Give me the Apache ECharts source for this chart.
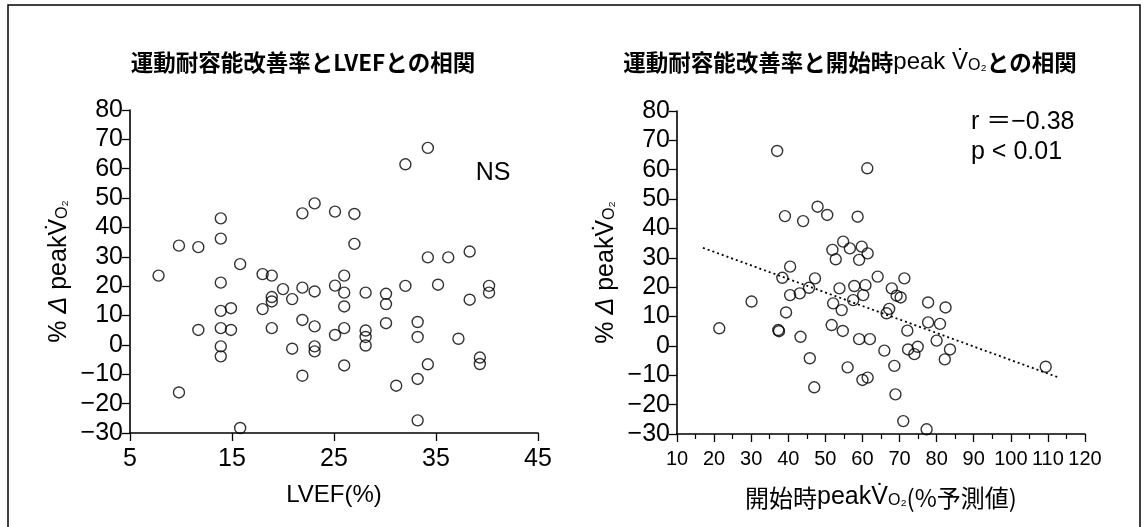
<!DOCTYPE html>
<html><head><meta charset="utf-8">
<script src="https://cdn.jsdelivr.net/npm/echarts@6/dist/echarts.min.js"></script>
<style>html,body{margin:0;padding:0;background:#fff}#c{width:1146px;height:527px}</style>
</head><body><div id="c"></div>
<script>
// Left panel: LVEF (%) vs %Δ peak VO2
const lvef = [7.8, 9.8, 11.7, 13.9, 13.9, 15.8, 13.9, 9.8, 15.8, 11.7, 13.9, 14.9, 13.9, 14.9, 13.9, 13.9, 18.0, 18.9, 20.0, 18.9, 18.9, 18.0, 20.9, 18.9, 21.9, 23.1, 25.1, 27.0, 27.0, 21.9, 23.1, 25.1, 26.0, 26.0, 26.0, 21.9, 23.1, 20.9, 23.1, 23.1, 21.9, 25.1, 26.0, 26.0, 28.1, 28.1, 28.1, 28.1, 30.1, 30.1, 30.1, 32.0, 34.2, 32.0, 33.2, 33.2, 34.2, 33.2, 31.1, 33.2, 34.2, 36.2, 38.3, 35.2, 38.3, 40.2, 40.2, 37.2, 39.3, 39.3];
const lvefChange = [23.6, 33.8, 33.3, 43.1, 36.2, 27.5, 21.2, -16.2, -28.3, 5.1, 11.6, 12.5, 5.7, 5.1, -0.5, -3.9, 24.1, 23.6, 19.0, 16.3, 14.8, 12.2, 15.6, 5.7, 44.8, 48.2, 45.4, 44.6, 34.4, 19.5, 18.2, 20.2, 23.6, 17.8, 13.1, 8.5, 6.3, -1.3, -0.5, -2.2, -10.5, 3.4, 5.7, -7.0, 17.8, 4.9, 2.7, -0.2, 17.4, 13.9, 7.4, 61.5, 67.1, 20.1, 7.8, 2.7, -6.6, -11.6, -13.9, -25.7, 29.8, 29.8, 31.8, 20.5, 15.4, 20.1, 17.8, 2.1, -4.3, -6.5];
const lvefTicks = [5, 15, 25, 35, 45];

// Right panel: baseline peak VO2 (% predicted) vs %Δ peak VO2
const basePeak = [37.0, 61.3, 39.1, 44.0, 47.9, 50.5, 58.7, 54.8, 51.9, 52.8, 56.6, 59.8, 61.4, 59.1, 40.5, 38.4, 47.2, 45.6, 43.1, 40.5, 30.1, 21.4, 39.4, 37.3, 37.5, 43.3, 45.8, 47.0, 53.8, 57.8, 60.8, 64.1, 71.3, 67.9, 69.2, 70.3, 60.2, 57.5, 52.1, 54.4, 67.2, 66.5, 77.7, 82.4, 77.7, 80.9, 80.0, 83.6, 82.2, 72.1, 72.3, 74.9, 74.0, 68.6, 68.9, 71.0, 77.3, 109.4, 51.7, 54.7, 59.1, 62.0, 65.9, 56.0, 60.0, 61.4];
const baseChange = [66.4, 60.5, 44.2, 42.5, 47.4, 44.6, 44.0, 35.5, 32.7, 29.5, 33.2, 33.8, 31.5, 29.3, 27.0, 23.2, 23.0, 19.8, 17.9, 17.3, 15.1, 6.0, 11.4, 5.4, 5.0, 3.1, -4.2, -14.1, 19.6, 20.4, 20.7, 23.6, 23.0, 19.6, 17.1, 16.5, 17.3, 15.6, 14.5, 12.2, 12.6, 11.1, 14.8, 13.1, 8.0, 7.5, 1.8, -1.2, -4.6, 5.2, -1.2, -0.3, -2.8, -6.8, -16.5, -25.6, -28.4, -7.1, 7.1, 5.1, 2.3, 2.3, -1.6, -7.3, -11.6, -10.8];
const trendX = [17, 113];
const trendY = [33.4, -10.8];

const zip = (a, b) => a.map((v, i) => [v, b[i]]);
const LAT = "'Liberation Sans', Arial, sans-serif";
const JP = "'Noto Sans CJK JP', 'Liberation Sans', sans-serif";
const minus = v => String(v).replace('-', '−');
const axisLine = { show: true, onZero: false, lineStyle: { color: '#000', width: 1.6 } };
const yAxisCommon = {
  type: 'value', min: -30, max: 80, interval: 10,
  axisLine: axisLine, splitLine: { show: false },
  axisTick: { show: true, length: 8, lineStyle: { color: '#000', width: 1.3 } },
  axisLabel: { color: '#000', fontSize: 25, fontFamily: LAT, margin: 7, formatter: minus },
  name: '{t|% }{d|Δ}{t| peak}{t|V̇}{o|O₂}',
  nameLocation: 'middle', nameGap: 58, nameRotate: 90,
  nameTextStyle: {
    color: '#000',
    rich: {
      t: { fontSize: 25, fontFamily: LAT, color: '#000' },
      d: { fontSize: 25, fontFamily: LAT, fontStyle: 'italic', color: '#000' },
      o: { fontSize: 16, fontFamily: LAT, color: '#000', padding: [7, 0, 0, 0] }
    }
  }
};
const sym = { symbol: 'circle', symbolSize: 11, itemStyle: { color: 'rgba(0,0,0,0)', borderColor: '#000', borderWidth: 1.4 } };

const option = {
  backgroundColor: '#fff',
  animation: false,
  grid: [
    { left: 130, right: 608, top: 110, bottom: 94, containLabel: false },
    { left: 677, right: 61, top: 111, bottom: 93, containLabel: false }
  ],
  xAxis: [
    { gridIndex: 0, type: 'value', min: 5, max: 45,
      axisLine: axisLine, splitLine: { show: false },
      axisTick: { show: true, length: 8, customValues: lvefTicks, lineStyle: { color: '#000', width: 1.3 } },
      axisLabel: { color: '#000', fontSize: 25, fontFamily: LAT, margin: 14, customValues: lvefTicks },
      name: 'LVEF(%)', nameLocation: 'middle', nameGap: 50,
      nameTextStyle: { color: '#000', fontSize: 24, fontFamily: LAT } },
    { gridIndex: 1, type: 'value', min: 10, max: 120, interval: 10,
      axisLine: axisLine, splitLine: { show: false },
      axisTick: { show: true, length: 8, lineStyle: { color: '#000', width: 1.3 } },
      minorTick: { show: true, splitNumber: 2, length: 5, lineStyle: { color: '#000', width: 1.2 } },
      axisLabel: { color: '#000', fontSize: 20, fontFamily: LAT, margin: 15, interval: 0, showMaxLabel: true, showMinLabel: true, hideOverlap: false },
      name: '{j|開始時}{t|peak}{t|V̇}{o|O₂}{j|(%予測値)}', nameLocation: 'middle', nameGap: 51,
      nameTextStyle: { color: '#000', rich: {
        j: { fontSize: 24, fontFamily: JP, color: '#000' },
        t: { fontSize: 25, fontFamily: LAT, color: '#000' },
        o: { fontSize: 16, fontFamily: LAT, color: '#000', padding: [7, 0, 0, 0] }
      } } }
  ],
  yAxis: [
    Object.assign({ gridIndex: 0 }, yAxisCommon),
    Object.assign({ gridIndex: 1 }, yAxisCommon)
  ],
  series: [
    Object.assign({ type: 'scatter', xAxisIndex: 0, yAxisIndex: 0, data: zip(lvef, lvefChange) }, sym),
    Object.assign({ type: 'scatter', xAxisIndex: 1, yAxisIndex: 1, data: zip(basePeak, baseChange) }, sym),
    { type: 'line', xAxisIndex: 1, yAxisIndex: 1, data: zip(trendX, trendY), showSymbol: false, symbol: 'none',
      lineStyle: { color: '#000', width: 1.8, type: [2, 3] }, z: 1 }
  ],
  graphic: [
    { type: 'rect', shape: { x: 8, y: 5, width: 1132, height: 540 }, style: { fill: 'none', stroke: '#000', lineWidth: 1.5 }, silent: true },
    { type: 'text', x: 303, y: 62, style: { text: '運動耐容能改善率とLVEFとの相関', font: "bold 22.5px 'Noto Sans CJK JP'", fill: '#000', textAlign: 'center', textVerticalAlign: 'middle' } },
    { type: 'text', x: 850, y: 62, style: {
        text: '{j|運動耐容能改善率と開始時}{t|peak }{t|V̇}{o|O₂}{j|との相関}',
        textAlign: 'center', textVerticalAlign: 'middle',
        rich: {
          j: { font: "bold 22.5px 'Noto Sans CJK JP'", fill: '#000' },
          t: { font: "24px 'Liberation Sans'", fill: '#000' },
          o: { font: "16px 'Liberation Sans'", fill: '#000', padding: [7, 0, 0, 0] }
        } } },
    { type: 'text', x: 493, y: 173, style: { text: 'NS', font: "25px 'Liberation Sans'", fill: '#000', textAlign: 'center', textVerticalAlign: 'middle' } },
    { type: 'text', x: 971, y: 122, style: { text: 'r ＝−0.38', font: "25px 'Liberation Sans', 'Noto Sans CJK JP'", fill: '#000', textAlign: 'left', textVerticalAlign: 'middle' } },
    { type: 'text', x: 971, y: 152, style: { text: 'p < 0.01', font: "25px 'Liberation Sans'", fill: '#000', textAlign: 'left', textVerticalAlign: 'middle' } }
  ]
};
echarts.init(document.getElementById('c'), null, { renderer: 'canvas' }).setOption(option);
</script></body></html>
